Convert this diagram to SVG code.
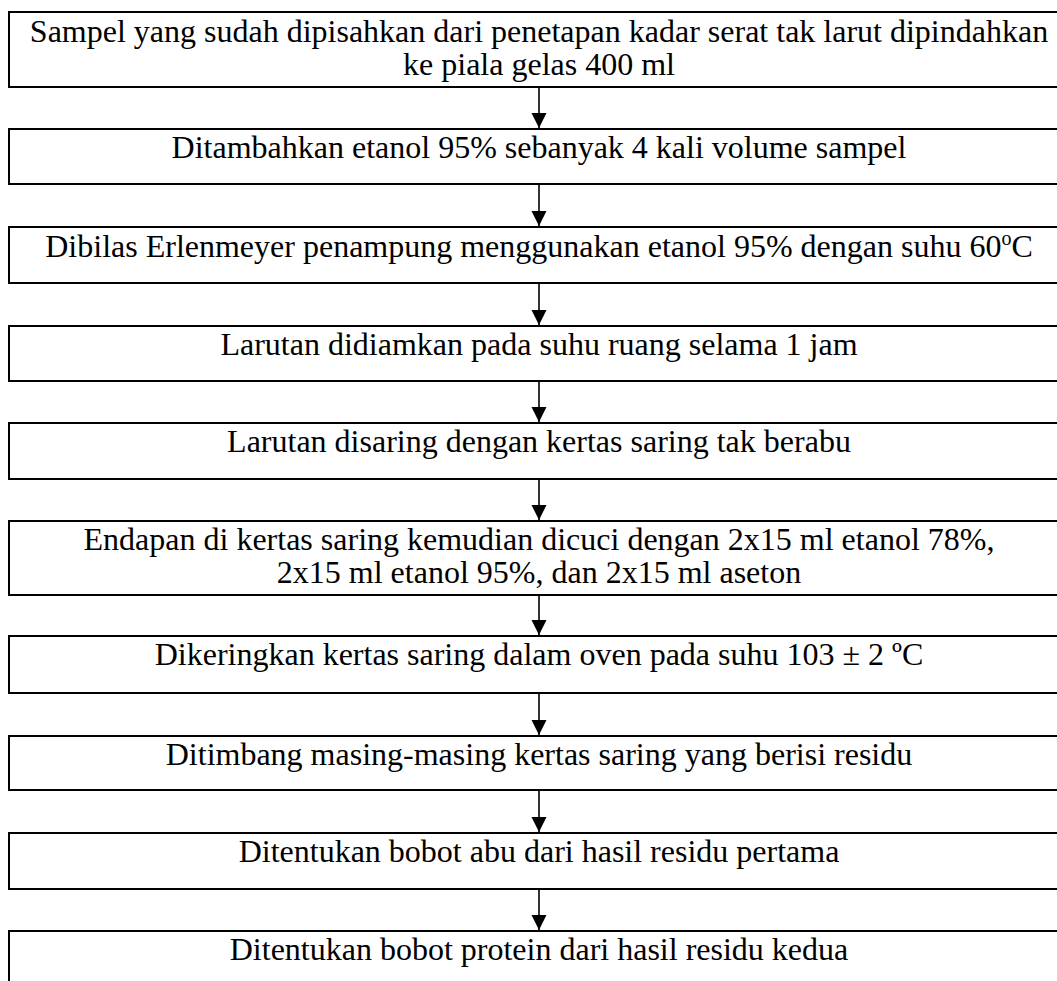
<svg xmlns="http://www.w3.org/2000/svg" width="1057" height="981" viewBox="0 0 1057 981">
<style>
.box{fill:#fff;stroke:#000;stroke-width:2}
.t{font-family:"Liberation Serif","Times New Roman",serif;font-size:32px;fill:#000;text-anchor:middle}
.c{stroke:#000;stroke-width:1.6;fill:none}
</style>
<defs>
<marker id="ah" markerUnits="userSpaceOnUse" markerWidth="16" markerHeight="16" refX="15" refY="7.5" orient="auto">
<path d="M0,0 L15,7.5 L0,15 Z" fill="#000"/>
</marker>
</defs>
<rect width="1057" height="981" fill="#fff"/>
<g id="connectors">
<line class="c" x1="539" y1="88" x2="539" y2="128" marker-end="url(#ah)"/>
<line class="c" x1="539" y1="185" x2="539" y2="226" marker-end="url(#ah)"/>
<line class="c" x1="539" y1="284" x2="539" y2="325" marker-end="url(#ah)"/>
<line class="c" x1="539" y1="382" x2="539" y2="422" marker-end="url(#ah)"/>
<line class="c" x1="539" y1="480" x2="539" y2="520" marker-end="url(#ah)"/>
<line class="c" x1="539" y1="596" x2="539" y2="635" marker-end="url(#ah)"/>
<line class="c" x1="539" y1="694" x2="539" y2="735" marker-end="url(#ah)"/>
<line class="c" x1="539" y1="791" x2="539" y2="832" marker-end="url(#ah)"/>
<line class="c" x1="539" y1="890" x2="539" y2="930" marker-end="url(#ah)"/>
</g>
<g id="n1"><rect class="box" x="9" y="12" width="1062" height="75"/>
<text class="t" x="539" y="42">Sampel yang sudah dipisahkan dari penetapan kadar serat tak larut dipindahkan</text>
<text class="t" x="539" y="75">ke piala gelas 400 ml</text></g>
<g id="n2"><rect class="box" x="9" y="129" width="1062" height="55"/>
<text class="t" x="539" y="158">Ditambahkan etanol 95% sebanyak 4 kali volume sampel</text></g>
<g id="n3"><rect class="box" x="9" y="227" width="1062" height="56"/>
<text class="t" x="539" y="257">Dibilas Erlenmeyer penampung menggunakan etanol 95% dengan suhu 60<tspan font-size="20" dy="-12">o</tspan><tspan dy="12">C</tspan></text></g>
<g id="n4"><rect class="box" x="9" y="326" width="1062" height="55"/>
<text class="t" x="539" y="355">Larutan didiamkan pada suhu ruang selama 1 jam</text></g>
<g id="n5"><rect class="box" x="9" y="423" width="1062" height="56"/>
<text class="t" x="539" y="452">Larutan disaring dengan kertas saring tak berabu</text></g>
<g id="n6"><rect class="box" x="9" y="521" width="1062" height="74"/>
<text class="t" x="539" y="550">Endapan di kertas saring kemudian dicuci dengan 2x15 ml etanol 78%,</text>
<text class="t" x="539" y="583">2x15 ml etanol 95%, dan 2x15 ml aseton</text></g>
<g id="n7"><rect class="box" x="9" y="636" width="1062" height="57"/>
<text class="t" x="539" y="665">Dikeringkan kertas saring dalam oven pada suhu 103 ± 2 ºC</text></g>
<g id="n8"><rect class="box" x="9" y="736" width="1062" height="54"/>
<text class="t" x="539" y="765">Ditimbang masing-masing kertas saring yang berisi residu</text></g>
<g id="n9"><rect class="box" x="9" y="833" width="1062" height="56"/>
<text class="t" x="539" y="862">Ditentukan bobot abu dari hasil residu pertama</text></g>
<g id="n10"><rect class="box" x="9" y="931" width="1062" height="70"/>
<text class="t" x="539" y="960">Ditentukan bobot protein dari hasil residu kedua</text></g>
</svg>
